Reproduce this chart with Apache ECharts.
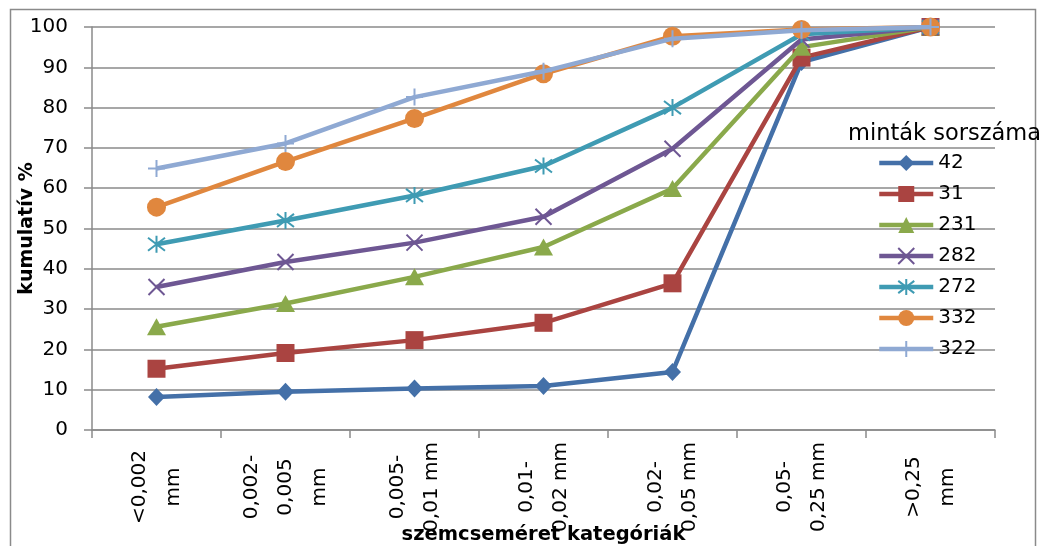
<!DOCTYPE html>
<html>
<head>
<meta charset="utf-8">
<script src="https://cdn.jsdelivr.net/npm/echarts@6/dist/echarts.min.js"></script>
<style>
  html, body { margin: 0; padding: 0; background: #ffffff; }
  #chart { width: 1039px; height: 546px; }
</style>
</head>
<body>
<div id="chart"></div>
<script>
// Grain-size categories (x axis)
const categories = ['<0,002\nmm', '0,002-\n0,005\nmm', '0,005-\n0,01 mm', '0,01-\n0,02 mm', '0,02-\n0,05 mm', '0,05-\n0,25 mm', '>0,25\nmm'];

// Cumulative percentages per sample number
const sampleNames = ['42', '31', '231', '282', '272', '332', '322'];
const s42  = [8.2, 9.5, 10.3, 10.9, 14.4, 91.3, 100];
const s31  = [15.2, 19.1, 22.3, 26.6, 36.4, 92.4, 100];
const s231 = [25.6, 31.4, 38.0, 45.4, 59.9, 95.0, 100];
const s282 = [35.5, 41.7, 46.5, 52.9, 69.8, 96.9, 100];
const s272 = [46.1, 52.0, 58.2, 65.5, 80.0, 98.2, 100];
const s332 = [55.3, 66.6, 77.3, 88.4, 97.7, 99.4, 100];
const s322 = [64.9, 71.1, 82.6, 89.0, 97.1, 99.2, 100];

const yTicks = { min: 0, max: 100, step: 10 };

const FONT = 'DejaVu Sans';
const palette = ['#4470A8', '#AA4441', '#8AA94B', '#6E5793', '#3F9BB3', '#E0873E', '#8FA9D3'];

// Marker shapes: diamond, square, triangle, x, asterisk, circle, plus
const XMARK = 'path://M0,0L10,10M10,0L0,10';
const STAR = 'path://M0,0L10,10M10,0L0,10M5,-1.5L5,11.5';
const PLUS = 'path://M0,5L10,5M5,0L5,10';
const markers = [
  { symbol: 'diamond', size: [17, 18], stroke: 0 },
  { symbol: 'rect', size: 18, stroke: 0 },
  { symbol: 'triangle', size: [19, 17], stroke: 0 },
  { symbol: XMARK, size: 16, stroke: 2 },
  { symbol: STAR, size: 17, stroke: 2 },
  { symbol: 'circle', size: 19, stroke: 0 },
  { symbol: PLUS, size: 17, stroke: 2 }
];

const seriesData = [s42, s31, s231, s282, s272, s332, s322];

const series = seriesData.map((vals, i) => ({
  name: sampleNames[i],
  type: 'line',
  data: vals,
  symbol: markers[i].symbol,
  symbolSize: markers[i].size,
  showAllSymbol: true,
  lineStyle: { color: palette[i], width: 4.5 },
  itemStyle: {
    color: palette[i],
    borderColor: palette[i],
    borderWidth: markers[i].stroke
  },
  emphasis: { disabled: true },
  animation: false,
  z: 2 + i
}));

const chart = echarts.init(document.getElementById('chart'), null, { renderer: 'canvas' });

chart.setOption({
  backgroundColor: '#ffffff',
  animation: false,
  textStyle: { fontFamily: FONT },
  grid: { left: 92, right: 44, top: 27, bottom: 116, containLabel: false, outerBoundsMode: 'none' },
  legend: {
    orient: 'vertical',
    left: 872,
    top: 147,
    itemWidth: 54,
    itemHeight: 20,
    itemGap: 9,
    data: sampleNames,
    selectedMode: false,
    lineStyle: { width: 4.5 },
    textStyle: { fontFamily: FONT, fontSize: 20, color: '#000', lineHeight: 22 }
  },
  xAxis: {
    type: 'category',
    data: categories,
    boundaryGap: true,
    name: 'szemcseméret kategóriák',
    nameLocation: 'middle',
    nameGap: 95,
    nameMoveOverlap: false,
    nameTextStyle: { fontFamily: FONT, fontSize: 19.5, fontWeight: 'bold', color: '#000' },
    axisLine: { lineStyle: { color: '#8a8a8a', width: 1.5 } },
    axisTick: { show: true, length: 8, inside: false, lineStyle: { color: '#8a8a8a', width: 1.5 } },
    axisLabel: {
      interval: 0,
      rotate: 90,
      margin: 16,
      color: '#000',
      fontFamily: FONT,
      fontSize: 20,
      formatter: (v) => v.split('\n').map(s => '{c|' + s + '}').join('\n'),
      rich: {
        c: { width: 82, align: 'center', fontFamily: FONT, fontSize: 20, lineHeight: 34, color: '#000' }
      }
    },
    splitLine: { show: false }
  },
  yAxis: {
    type: 'value',
    min: yTicks.min,
    max: yTicks.max,
    interval: yTicks.step,
    name: 'kumulatív %',
    nameLocation: 'middle',
    nameRotate: 90,
    nameGap: 55,
    nameMoveOverlap: false,
    nameTextStyle: { fontFamily: FONT, fontSize: 19, fontWeight: 'bold', color: '#000' },
    axisLine: { show: true, lineStyle: { color: '#8a8a8a', width: 1.5 } },
    axisTick: { show: true, length: 8, lineStyle: { color: '#8a8a8a', width: 1.5 } },
    axisLabel: { margin: 24, color: '#000', fontFamily: FONT, fontSize: 20 },
    splitLine: { show: true, lineStyle: { color: '#8a8a8a', width: 1.5 } }
  },
  graphic: [{
    type: 'rect',
    left: 8,
    top: 7,
    shape: { width: 1025, height: 600 },
    style: { fill: 'none', stroke: '#8a8a8a', lineWidth: 1.5 },
    silent: true,
    z: -10
  }, {
    // legend heading
    type: 'text',
    x: 848,
    y: 134,
    style: {
      text: 'minták sorszáma',
      fontFamily: FONT,
      fontSize: 22.5,
      fill: '#000',
      align: 'left',
      verticalAlign: 'middle'
    },
    silent: true,
    z: 20
  }],
  series: series
});
</script>
</body>
</html>
